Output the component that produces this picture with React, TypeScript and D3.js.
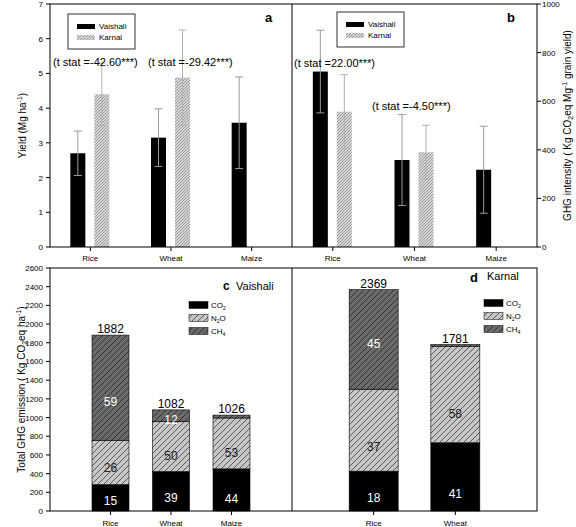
import React from 'react';
import * as d3 from 'd3';

// ---------- data ----------
const cropsTop = ['Rice', 'Wheat', 'Maize'];
const sites = ['Vaishali', 'Karnal'];
const yieldVaishali = [2.7, 3.15, 3.58];
const yieldVaishaliErr = [0.64, 0.83, 1.32];
const yieldKarnal = [4.4, 4.88, null];
const yieldKarnalErr = [0.9, 1.37, null];
const intensityVaishali = [722, 358, 318];
const intensityVaishaliErr = [170, 187, 179];
const intensityKarnal = [557, 390, null];
const intensityKarnalErr = [152, 111, null];
const tStatYield = ['-42.60', '-29.42'];
const tStatIntensity = ['22.00', '-4.50'];

const gases = ['CO2', 'N2O', 'CH4'];
const cropsVaishali = ['Rice', 'Wheat', 'Maize'];
const vaishaliCO2 = [282, 422, 451];
const vaishaliN2O = [475, 536, 544];
const vaishaliCH4 = [1125, 124, 31];
const vaishaliTotal = [1882, 1082, 1026];
const vaishaliPct = [[15, 26, 59], [39, 50, 12], [44, 53, null]];
const vaishaliPctAt = [[107, 460, 1166], [139, 588, 974], [128, 624, null]];

const cropsKarnal = ['Rice', 'Wheat'];
const karnalCO2 = [426, 730];
const karnalN2O = [877, 1033];
const karnalCH4 = [1066, 18];
const karnalTotal = [2369, 1781];
const karnalPct = [[18, 37, 45], [41, 58, null]];
const karnalPctAt = [[142, 688, 1787], [182, 1038, null]];

const yieldTicks = [0, 1, 2, 3, 4, 5, 6, 7];
const intensityTicks = [0, 200, 400, 600, 800, 1000];
const emissionTicks = d3.range(0, 2601, 200);

// ---------- layout ----------
const FONT = "'Liberation Sans', Arial, sans-serif";
const L = 50, M = 292, R = 537;
const T1 = 4, B1 = 247, T2 = 268, B2 = 511;

const fills: Record<string, string> = { CO2: '#000', N2O: 'url(#patN2O)', CH4: 'url(#patCH4)' };
const pctColor: Record<string, string> = { CO2: '#fff', N2O: '#222', CH4: '#fff' };

function Sub({ base, sub, fs }: { base: string; sub: string; fs: number }) {
  return (
    <>
      {base}
      <tspan dy={2} fontSize={fs * 0.65}>{sub}</tspan>
      <tspan dy={-2}>{''}</tspan>
    </>
  );
}

function ErrBar({ x, y0, y1, color }: { x: number; y0: number; y1: number; color: string }) {
  return (
    <g stroke={color} strokeWidth={1}>
      <line x1={x} x2={x} y1={y0} y2={y1} />
      <line x1={x - 4} x2={x + 4} y1={y0} y2={y0} />
      <line x1={x - 4} x2={x + 4} y1={y1} y2={y1} />
    </g>
  );
}

function GroupedPanel({
  x0, x1, y, v, ve, k, ke,
}: {
  x0: number; x1: number; y: d3.ScaleLinear<number, number>;
  v: number[]; ve: number[]; k: (number | null)[]; ke: (number | null)[];
}) {
  const x = d3.scalePoint<string>().domain(cropsTop).range([x0, x1]).padding(0.5);
  const inner = d3.scaleBand<string>().domain(sites).range([-20, 19]).paddingInner(0.375);
  const bw = inner.bandwidth();
  return (
    <g>
      {cropsTop.map((c, i) => {
        const cx = x(c)!;
        const vx = cx + inner('Vaishali')!;
        const kx = cx + inner('Karnal')!;
        return (
          <g key={c}>
            <rect x={vx} y={y(v[i])} width={bw} height={y(0) - y(v[i])} fill="#000" />
            {k[i] != null && (
              <rect x={kx} y={y(k[i]!)} width={bw} height={y(0) - y(k[i]!)} fill="url(#patKarnal)" />
            )}
            <ErrBar x={vx + bw / 2} y0={y(v[i] + ve[i])} y1={y(v[i] - ve[i])} color="#9a9a9a" />
            {k[i] != null && (
              <ErrBar x={kx + bw / 2} y0={y(k[i]! + ke[i]!)} y1={y(k[i]! - ke[i]!)} color="#b0b0b0" />
            )}
            <line x1={cx} x2={cx} y1={B1} y2={B1 + 4} stroke="#000" />
            <text x={cx} y={261} fontSize={8} textAnchor="middle">{c}</text>
          </g>
        );
      })}
    </g>
  );
}

function StackPanel({
  x0, x1, crops, co2, n2o, ch4, total, pct, pctAt, bw,
}: {
  x0: number; x1: number; crops: string[]; co2: number[]; n2o: number[]; ch4: number[];
  total: number[]; pct: (number | null)[][]; pctAt: (number | null)[][]; bw: number;
}) {
  const x = d3.scalePoint<string>().domain(crops).range([x0, x1]).padding(1);
  const y = d3.scaleLinear().domain([0, 2600]).range([B2, T2]);
  const rows = crops.map((c, i) => ({ crop: c, CO2: co2[i], N2O: n2o[i], CH4: ch4[i] }));
  const series = d3.stack<any>().keys(gases)(rows);
  return (
    <g>
      {series.map((s) => (
        <g key={s.key}>
          {s.map((d, i) => (
            <rect key={i} x={x(crops[i])! - bw / 2} y={y(d[1])} width={bw} height={y(d[0]) - y(d[1])}
              fill={fills[s.key]} stroke="#000" strokeWidth={0.6} />
          ))}
        </g>
      ))}
      {crops.map((c, i) => (
        <g key={c}>
          <text x={x(c)} y={y(total[i]) - 2} fontSize={12} textAnchor="middle">{total[i]}</text>
          {gases.map((g, j) =>
            pct[i][j] != null ? (
              <text key={g} x={x(c)} y={y(pctAt[i][j]!) + 4} fontSize={12} textAnchor="middle" fill={pctColor[g]}>
                {pct[i][j]}
              </text>
            ) : null,
          )}
          <line x1={x(c)} x2={x(c)} y1={B2} y2={B2 + 4} stroke="#000" />
          <text x={x(c)} y={526} fontSize={8} textAnchor="middle">{c}</text>
        </g>
      ))}
    </g>
  );
}

function GasLegend({ x, y }: { x: number; y: number }) {
  return (
    <g fontSize={8}>
      {gases.map((g, i) => (
        <g key={g} transform={`translate(${x},${y + i * 13})`}>
          <rect x={0} y={-3.5} width={19} height={7} fill={fills[g]} stroke="#000" strokeWidth={0.5} />
          <text x={22} y={3}>
            {g === 'CO2' && <Sub base="CO" sub="2" fs={8} />}
            {g === 'N2O' && (<>N<tspan dy={2} fontSize={5}>2</tspan><tspan dy={-2}>O</tspan></>)}
            {g === 'CH4' && <Sub base="CH" sub="4" fs={8} />}
          </text>
        </g>
      ))}
    </g>
  );
}

function SiteLegend({ x, y }: { x: number; y: number }) {
  return (
    <g>
      <rect x={x} y={y} width={67} height={35} fill="#fff" stroke="#333" strokeWidth={1} />
      <rect x={x + 9} y={y + 10} width={18} height={5} fill="#000" />
      <text x={x + 31} y={y + 15} fontSize={8}>Vaishali</text>
      <rect x={x + 9} y={y + 21} width={18} height={5} fill="url(#patKarnal)" />
      <text x={x + 31} y={y + 26} fontSize={8}>Karnal</text>
    </g>
  );
}

export default function App() {
  const yA = d3.scaleLinear().domain([0, 7]).range([B1, T1]);
  const yB = d3.scaleLinear().domain([0, 1000]).range([B1, T1]);
  const yC = d3.scaleLinear().domain([0, 2600]).range([B2, T2]);

  return (
    <svg width={576} height={527} style={{ position: 'absolute', left: 0, top: 0, background: '#fff' }}
      fontFamily={FONT}>
      <defs>
        <pattern id="patKarnal" patternUnits="userSpaceOnUse" width={3} height={3}>
          <rect width={3} height={3} fill="#d6d6d6" />
          <path d="M-1,1 L1,-1 M0,3 L3,0 M2,4 L4,2" stroke="#8a8a8a" strokeWidth={0.8} />
        </pattern>
        <pattern id="patN2O" patternUnits="userSpaceOnUse" width={6} height={6}>
          <rect width={6} height={6} fill="#c6c6c6" />
          <path d="M-1,1 L1,-1 M0,6 L6,0 M5,7 L7,5" stroke="#2a2a2a" strokeWidth={0.7} />
        </pattern>
        <pattern id="patCH4" patternUnits="userSpaceOnUse" width={6} height={6}>
          <rect width={6} height={6} fill="#6a6a6a" />
          <path d="M-1,1 L1,-1 M0,6 L6,0 M5,7 L7,5" stroke="#1a1a1a" strokeWidth={0.7} />
        </pattern>
      </defs>
      <rect width={576} height={527} fill="#fff" />

      {/* ---------- top panels ---------- */}
      <GroupedPanel x0={L} x1={M} y={yA} v={yieldVaishali} ve={yieldVaishaliErr} k={yieldKarnal} ke={yieldKarnalErr} />
      <GroupedPanel x0={M} x1={R} y={yB} v={intensityVaishali} ve={intensityVaishaliErr} k={intensityKarnal} ke={intensityKarnalErr} />

      <rect x={L} y={T1} width={R - L} height={B1 - T1} fill="none" stroke="#000" strokeWidth={1} />
      <line x1={M} x2={M} y1={T1} y2={B1} stroke="#000" />

      {yieldTicks.map((t) => (
        <g key={t}>
          <line x1={L - 4} x2={L} y1={yA(t)} y2={yA(t)} stroke="#000" />
          <text x={L - 7} y={yA(t) + 3} fontSize={8} textAnchor="end">{t}</text>
        </g>
      ))}
      {intensityTicks.map((t) => (
        <g key={t}>
          <line x1={R} x2={R + 4} y1={yB(t)} y2={yB(t)} stroke="#000" />
          <text x={R + 5} y={yB(t) + 3} fontSize={8}>{t}</text>
        </g>
      ))}

      <text transform={`translate(26,${(T1 + B1) / 2}) rotate(-90)`} fontSize={10} textAnchor="middle">
        Yield (Mg ha<tspan dy={-4} fontSize={7}>-1</tspan><tspan dy={4}>)</tspan>
      </text>
      <text transform={`translate(571,${(T1 + B1) / 2}) rotate(-90)`} fontSize={10} textAnchor="middle">
        GHG intensity ( Kg CO<tspan dy={2} fontSize={7}>2</tspan><tspan dy={-2}>eq Mg</tspan>
        <tspan dy={-4} fontSize={7}>-1</tspan><tspan dy={4}> grain yield)</tspan>
      </text>

      <SiteLegend x={68} y={14} />
      <SiteLegend x={337} y={12} />
      <text x={265} y={22} fontSize={13} fontWeight="bold">a</text>
      <text x={507} y={22} fontSize={13} fontWeight="bold">b</text>

      <text x={53} y={66} fontSize={11}>(t stat ={tStatYield[0]}***)</text>
      <text x={148} y={66} fontSize={11}>(t stat ={tStatYield[1]}***)</text>
      <text x={294} y={67} fontSize={11}>(t stat ={tStatIntensity[0]}***)</text>
      <text x={372} y={110} fontSize={11}>(t stat ={tStatIntensity[1]}***)</text>

      {/* ---------- bottom panels ---------- */}
      <StackPanel x0={L} x1={M} crops={cropsVaishali} co2={vaishaliCO2} n2o={vaishaliN2O} ch4={vaishaliCH4}
        total={vaishaliTotal} pct={vaishaliPct} pctAt={vaishaliPctAt} bw={37} />
      <StackPanel x0={M} x1={R} crops={cropsKarnal} co2={karnalCO2} n2o={karnalN2O} ch4={karnalCH4}
        total={karnalTotal} pct={karnalPct} pctAt={karnalPctAt} bw={49} />

      <rect x={L} y={T2} width={R - L} height={B2 - T2} fill="none" stroke="#000" strokeWidth={1} />
      <line x1={M} x2={M} y1={T2} y2={B2} stroke="#000" />

      {emissionTicks.map((t) => (
        <g key={t}>
          <line x1={L - 4} x2={L} y1={yC(t)} y2={yC(t)} stroke="#000" />
          <text x={L - 7} y={yC(t) + 3} fontSize={8} textAnchor="end">{t}</text>
        </g>
      ))}
      <text transform={`translate(25,${(T2 + B2) / 2}) rotate(-90)`} fontSize={10} textAnchor="middle">
        Total GHG emission ( Kg CO<tspan dy={2} fontSize={7}>2</tspan><tspan dy={-2}>eq ha</tspan>
        <tspan dy={-4} fontSize={7}>-1</tspan><tspan dy={4}>)</tspan>
      </text>

      <text x={223} y={290} fontSize={12} fontWeight="bold">c</text>
      <text x={236} y={290} fontSize={11}>Vaishali</text>
      <GasLegend x={189} y={305} />

      <text x={470} y={282} fontSize={13} fontWeight="bold">d</text>
      <text x={487} y={280} fontSize={11}>Karnal</text>
      <GasLegend x={484} y={303} />
    </svg>
  );
}
